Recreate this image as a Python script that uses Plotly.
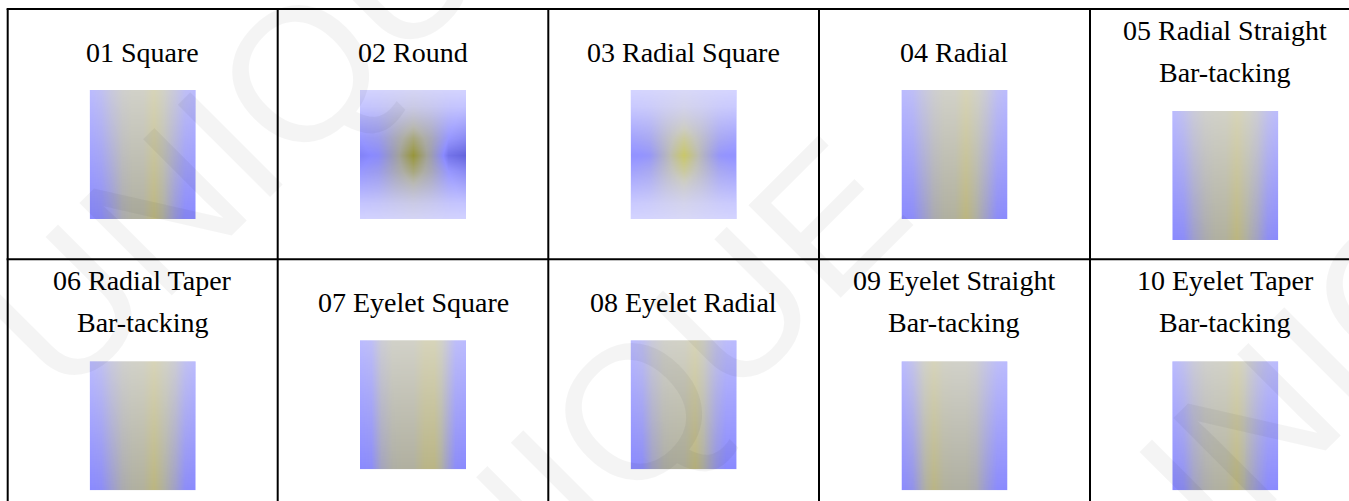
import numpy as np
import plotly.graph_objects as go

W, H = 1349, 501

# table grid lines (px)
col_lines = [7.7, 277.7, 548.3, 819.0, 1090.0, 1360.6]
row_lines = [9.0, 259.3, 509.6]

labels = [
    ["01 Square"], ["02 Round"], ["03 Radial Square"], ["04 Radial"],
    ["05 Radial Straight", "Bar-tacking"],
    ["06 Radial Taper", "Bar-tacking"], ["07 Eyelet Square"], ["08 Eyelet Radial"],
    ["09 Eyelet Straight", "Bar-tacking"], ["10 Eyelet Taper", "Bar-tacking"],
]

# "blue-ness" across each swatch (0 = khaki stripe, ~0.33 = grey, 1 = blue), top row / bottom row
sw01 = [[1.0, 0.85, 0.6, 0.42, 0.35, 0.33, 0.05, 0.35, 0.6, 0.88, 1.0],
        [1.0, 0.95, 0.75, 0.45, 0.35, 0.33, 0.0, 0.38, 0.75, 0.98, 1.0]]
sw04 = [[1.0, 0.9, 0.65, 0.45, 0.35, 0.33, 0.05, 0.3, 0.55, 0.85, 1.0],
        [1.0, 0.95, 0.7, 0.45, 0.35, 0.3, 0.0, 0.35, 0.65, 0.95, 1.0]]
sw05 = [[1.0, 0.8, 0.55, 0.4, 0.35, 0.3, 0.05, 0.3, 0.5, 0.8, 1.0],
        [1.0, 0.95, 0.65, 0.45, 0.35, 0.3, 0.0, 0.35, 0.6, 0.92, 1.0]]
sw06 = [[1.0, 0.85, 0.6, 0.42, 0.35, 0.3, 0.05, 0.3, 0.5, 0.82, 1.0],
        [1.0, 0.95, 0.7, 0.45, 0.35, 0.3, 0.0, 0.35, 0.62, 0.95, 1.0]]
sw07 = [[1.0, 0.9, 0.5, 0.35, 0.33, 0.33, 0.1, 0.08, 0.5, 0.92, 1.0],
        [1.0, 0.95, 0.55, 0.38, 0.33, 0.33, 0.08, 0.05, 0.55, 0.95, 1.0]]
sw08 = [[1.0, 0.85, 0.55, 0.38, 0.33, 0.3, 0.05, 0.4, 0.75, 0.95, 1.0],
        [1.0, 0.95, 0.6, 0.4, 0.33, 0.3, 0.0, 0.42, 0.8, 1.0, 1.0]]
sw09 = [[1.0, 0.75, 0.4, 0.1, 0.3, 0.35, 0.35, 0.45, 0.7, 0.92, 1.0],
        [1.0, 0.85, 0.45, 0.05, 0.3, 0.35, 0.35, 0.45, 0.75, 0.98, 1.0]]
sw10 = [[1.0, 0.8, 0.55, 0.4, 0.35, 0.3, 0.05, 0.4, 0.7, 0.9, 1.0],
        [1.0, 0.92, 0.6, 0.42, 0.35, 0.3, 0.0, 0.45, 0.75, 0.98, 1.0]]
white_stripe = [0.42, 0.0]

# radial swatches (9 rows x 7 cols)
sw02 = [[0.75, 0.72, 0.68, 0.62, 0.68, 0.72, 0.75],
        [0.75, 0.70, 0.60, 0.52, 0.60, 0.72, 0.76],
        [0.75, 0.68, 0.48, 0.35, 0.48, 0.72, 0.80],
        [0.75, 0.66, 0.40, 0.15, 0.40, 0.75, 0.85],
        [0.80, 0.72, 0.38, 0.00, 0.40, 0.90, 1.00],
        [0.75, 0.66, 0.40, 0.15, 0.40, 0.75, 0.85],
        [0.75, 0.68, 0.48, 0.35, 0.48, 0.72, 0.80],
        [0.75, 0.70, 0.60, 0.52, 0.60, 0.72, 0.76],
        [0.75, 0.72, 0.68, 0.62, 0.68, 0.72, 0.75]]
white02 = [0.62, 0.5, 0.3, 0.12, 0.0, 0.12, 0.3, 0.5, 0.62]
sw03 = [[0.75, 0.72, 0.68, 0.62, 0.68, 0.72, 0.75],
        [0.75, 0.70, 0.60, 0.52, 0.60, 0.70, 0.75],
        [0.75, 0.68, 0.48, 0.35, 0.48, 0.68, 0.75],
        [0.75, 0.66, 0.40, 0.15, 0.40, 0.66, 0.75],
        [0.80, 0.72, 0.38, 0.00, 0.38, 0.72, 0.80],
        [0.75, 0.66, 0.40, 0.15, 0.40, 0.66, 0.75],
        [0.75, 0.68, 0.48, 0.35, 0.48, 0.68, 0.75],
        [0.75, 0.70, 0.60, 0.52, 0.60, 0.70, 0.75],
        [0.75, 0.72, 0.68, 0.62, 0.68, 0.72, 0.75]]
white03 = [0.6, 0.5, 0.32, 0.14, 0.0, 0.14, 0.32, 0.5, 0.6]

stripe_scale = [[0, "#bcb680"], [0.35, "#b0b0a2"], [1, "#8a8aff"]]
round_scale = [[0, "#98963a"], [0.3, "#a2a29a"], [0.75, "#8a8aff"], [1, "#6464dc"]]
radsq_scale = [[0, "#cac86a"], [0.3, "#bcbcb4"], [0.75, "#9494ff"], [1, "#8c8cff"]]
white_scale = [[0, "rgba(255,255,255,0)"], [1, "rgba(255,255,255,1)"]]

swatches = [
    (sw01, white_stripe, stripe_scale), (sw02, white02, round_scale), (sw03, white03, radsq_scale),
    (sw04, white_stripe, stripe_scale), (sw05, white_stripe, stripe_scale),
    (sw06, white_stripe, stripe_scale), (sw07, white_stripe, stripe_scale),
    (sw08, white_stripe, stripe_scale), (sw09, white_stripe, stripe_scale),
    (sw10, white_stripe, stripe_scale),
]

# watermark word centres (px)
wm_x = [278, 611, 1372]
wm_y = [96, 434, 311]

SW_W, SW_H = 106, 129
SERIF = "Liberation Serif"

fig = go.Figure()
layout_axes = {}
annotations = []

for i, (lines, (z, white, scale)) in enumerate(zip(labels, swatches)):
    r, c = divmod(i, 5)
    cx = (col_lines[c] + col_lines[c + 1]) / 2
    rtop = row_lines[r]
    two = len(lines) == 2
    top = rtop + (102 if two else 81)
    k = i + 1
    xa, ya = f"x{k}", f"y{k}"
    layout_axes[f"xaxis{k}"] = dict(domain=[(cx - SW_W / 2) / W, (cx + SW_W / 2) / W],
                                    range=[0, 1], visible=False, fixedrange=True)
    layout_axes[f"yaxis{k}"] = dict(domain=[1 - (top + SW_H) / H, 1 - top / H],
                                    range=[1, 0], visible=False, fixedrange=True)
    nr, nc = len(z), len(z[0])
    fig.add_trace(go.Heatmap(z=z, x=np.linspace(0, 1, nc), y=np.linspace(0, 1, nr),
                             colorscale=scale, zmin=0, zmax=1, zsmooth="best",
                             showscale=False, hoverinfo="skip", xaxis=xa, yaxis=ya))
    fig.add_trace(go.Heatmap(z=[[w, w] for w in white], x=[0, 1],
                             y=np.linspace(0, 1, len(white)),
                             colorscale=white_scale, zmin=0, zmax=1, zsmooth="best",
                             showscale=False, hoverinfo="skip", xaxis=xa, yaxis=ya))
    # labels
    mids = [rtop + 21.5, rtop + 63.2] if two else [rtop + 43.2]
    for txt, ym in zip(lines, mids):
        annotations.append(dict(text=txt, x=cx / W, y=1 - ym / H, xref="paper", yref="paper",
                                xanchor="center", yanchor="middle", showarrow=False,
                                font=dict(family=SERIF, size=28, color="#000000")))

# faint watermark
for x, y in zip(wm_x, wm_y):
    annotations.append(dict(text="UNIQUE", x=x / W, y=1 - y / H, xref="paper", yref="paper",
                            xanchor="center", yanchor="middle", showarrow=False, textangle=-45,
                            font=dict(family="Liberation Sans", size=190,
                                      color="rgba(0,0,0,0.045)")))

# table lines
shapes = []
for xl in col_lines:
    shapes.append(dict(type="line", xref="paper", yref="paper", x0=xl / W, x1=xl / W,
                       y0=1 - row_lines[0] / H, y1=1 - row_lines[-1] / H,
                       line=dict(color="black", width=2), layer="above"))
for yl in row_lines:
    shapes.append(dict(type="line", xref="paper", yref="paper", x0=col_lines[0] / W - 0.0008,
                       x1=col_lines[-1] / W, y0=1 - yl / H, y1=1 - yl / H,
                       line=dict(color="black", width=2), layer="above"))

fig.update_layout(width=W, height=H, margin=dict(l=0, r=0, t=0, b=0),
                  paper_bgcolor="white", plot_bgcolor="white", showlegend=False,
                  annotations=annotations, shapes=shapes, **layout_axes)

fig.write_html("out.html", config={"displayModeBar": False},
               post_script="document.body.style.margin='0';")
